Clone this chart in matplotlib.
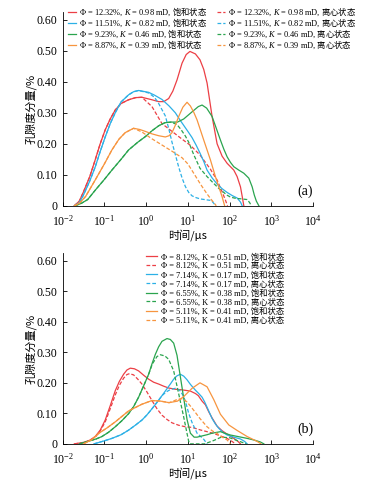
import matplotlib
matplotlib.use("Agg")
import matplotlib.pyplot as plt
import numpy as np

plt.rcParams["font.family"] = ["Liberation Serif", "Noto Sans CJK SC"]
plt.rcParams["mathtext.fontset"] = "custom"
plt.rcParams["mathtext.rm"] = "Liberation Serif"
plt.rcParams["mathtext.it"] = "Liberation Serif:italic"
plt.rcParams["mathtext.sf"] = "Noto Sans CJK SC"

RED = "#ec3f45"
BLUE = "#2cb0e6"
GREEN = "#2aa44e"
ORANGE = "#f7953f"

# ---- panel (a): log10(time/us) and porosity component (%) ----
a_red_sat_logt = [-1.72, -1.6, -1.5, -1.35, -1.22, -1.1, -0.98, -0.86, -0.74, -0.6, -0.42, -0.25, -0.1,
                  0.14, 0.3, 0.42, 0.54, 0.64, 0.74, 0.86, 0.96, 1.05, 1.18, 1.29, 1.38, 1.46, 1.58,
                  1.7, 1.82, 1.94, 2.1, 2.18, 2.26, 2.3, 2.34]
a_red_sat = [0, 0.015, 0.045, 0.094, 0.148, 0.2, 0.245, 0.28, 0.309, 0.33, 0.342, 0.349, 0.35,
             0.342, 0.336, 0.336, 0.346, 0.37, 0.406, 0.46, 0.488, 0.498, 0.49, 0.471, 0.44, 0.396, 0.288,
             0.2, 0.16, 0.137, 0.115, 0.094, 0.061, 0.031, 0]
a_red_cen_logt = [-1.72, -1.6, -1.5, -1.35, -1.22, -1.1, -0.98, -0.86, -0.74, -0.6, -0.42, -0.25, -0.1,
                  0.14, 0.38, 0.62, 0.86, 1.06, 1.29, 1.42, 1.54, 1.62, 1.7, 1.82, 1.9, 1.95]
a_red_cen = [0, 0.015, 0.045, 0.094, 0.148, 0.2, 0.245, 0.28, 0.309, 0.33, 0.342, 0.349, 0.35,
             0.32, 0.265, 0.24, 0.215, 0.195, 0.164, 0.14, 0.118, 0.1, 0.083, 0.045, 0.018, 0]

a_blue_sat_logt = [-1.72, -1.6, -1.5, -1.35, -1.22, -1.1, -0.98, -0.86, -0.74, -0.6, -0.42, -0.3, -0.18,
                   0.06, 0.2, 0.38, 0.55, 0.7, 0.82, 1.0, 1.1, 1.2, 1.29, 1.38, 1.46, 1.58, 1.7, 1.82,
                   1.94, 2.06, 2.18, 2.26, 2.3]
a_blue_sat = [0, 0.01, 0.035, 0.08, 0.125, 0.175, 0.222, 0.265, 0.3, 0.335, 0.358, 0.368, 0.372,
              0.366, 0.357, 0.343, 0.322, 0.3, 0.275, 0.24, 0.22, 0.195, 0.17, 0.143, 0.115, 0.09, 0.07, 0.055,
              0.043, 0.033, 0.025, 0.012, 0]
a_blue_cen_logt = [-1.72, -1.6, -1.5, -1.35, -1.22, -1.1, -0.98, -0.86, -0.74, -0.6, -0.42, -0.3, -0.18,
                   0.06, 0.2, 0.3, 0.38, 0.46, 0.54, 0.62, 0.7, 0.78, 0.86, 0.94, 1.02, 1.1, 1.2, 1.3,
                   1.45, 1.56, 1.62, 1.66]
a_blue_cen = [0, 0.01, 0.035, 0.08, 0.125, 0.175, 0.222, 0.265, 0.3, 0.335, 0.358, 0.368, 0.372,
              0.364, 0.35, 0.33, 0.31, 0.29, 0.25, 0.205, 0.165, 0.125, 0.09, 0.062, 0.043, 0.032, 0.026, 0.022,
              0.019, 0.017, 0.008, 0]

a_green_sat_logt = [-1.7, -1.55, -1.4, -1.22, -1.0, -0.82, -0.6, -0.42, -0.2, -0.02, 0.15, 0.3, 0.45,
                    0.6, 0.75, 0.9, 1.1, 1.25, 1.34, 1.45, 1.58, 1.68, 1.78, 1.86, 1.94, 2.02, 2.1,
                    2.22, 2.34, 2.46, 2.54, 2.59, 2.64, 2.7]
a_green_sat = [0, 0.008, 0.02, 0.05, 0.085, 0.115, 0.15, 0.18, 0.205, 0.223, 0.243, 0.258, 0.268,
               0.27, 0.27, 0.28, 0.303, 0.32, 0.325, 0.315, 0.288, 0.25, 0.212, 0.183, 0.158, 0.14, 0.126,
               0.115, 0.105, 0.089, 0.061, 0.035, 0.015, 0]
a_green_cen_logt = [-1.7, -1.55, -1.4, -1.22, -1.0, -0.82, -0.6, -0.42, -0.2, -0.02, 0.15, 0.3, 0.45,
                    0.6, 0.74, 0.84, 0.94, 1.02, 1.14, 1.29, 1.46, 1.62, 1.74, 1.86, 1.94, 2.02, 2.14,
                    2.3, 2.42, 2.48, 2.52]
a_green_cen = [0, 0.008, 0.02, 0.05, 0.085, 0.115, 0.15, 0.18, 0.205, 0.223, 0.243, 0.258, 0.268,
               0.27, 0.262, 0.245, 0.225, 0.205, 0.165, 0.121, 0.094, 0.072, 0.056, 0.043, 0.034, 0.028, 0.024,
               0.022, 0.02, 0.01, 0]

a_orange_sat_logt = [-1.72, -1.6, -1.45, -1.22, -1.0, -0.82, -0.65, -0.5, -0.3, -0.15, -0.02, 0.14, 0.3,
                     0.46, 0.55, 0.62, 0.7, 0.78, 0.88, 0.98, 1.06, 1.14, 1.22, 1.38, 1.54, 1.66, 1.74,
                     1.82, 1.88]
a_orange_sat = [0, 0.008, 0.03, 0.083, 0.135, 0.18, 0.215, 0.236, 0.25, 0.246, 0.24, 0.232, 0.226,
                0.222, 0.226, 0.236, 0.26, 0.288, 0.318, 0.334, 0.322, 0.302, 0.277, 0.212, 0.148, 0.094, 0.061,
                0.029, 0]
a_orange_cen_logt = [-1.72, -1.6, -1.45, -1.22, -1.0, -0.82, -0.65, -0.5, -0.3, -0.1, 0.14, 0.38, 0.62,
                     0.86, 1.0, 1.14, 1.3, 1.45, 1.56, 1.64, 1.68]
a_orange_cen = [0, 0.008, 0.03, 0.083, 0.135, 0.18, 0.215, 0.236, 0.25, 0.238, 0.216, 0.196, 0.176,
                0.155, 0.135, 0.105, 0.07, 0.04, 0.02, 0.007, 0]

# ---- panel (b) ----
b_red_sat_logt = [-1.72, -1.5, -1.35, -1.22, -1.1, -0.98, -0.86, -0.74, -0.64, -0.54, -0.46, -0.38, -0.28,
                  -0.18, -0.06, 0.06, 0.18, 0.3, 0.42, 0.54, 0.7, 0.86, 1.06, 1.18, 1.25, 1.34, 1.42,
                  1.5, 1.58, 1.7, 1.82, 1.94, 2.1, 2.2, 2.26]
b_red_sat = [0, 0.005, 0.012, 0.024, 0.045, 0.078, 0.125, 0.174, 0.205, 0.228, 0.242, 0.248, 0.246,
             0.239, 0.225, 0.212, 0.202, 0.196, 0.189, 0.183, 0.179, 0.177, 0.173, 0.165, 0.158, 0.14, 0.128,
             0.105, 0.085, 0.058, 0.043, 0.032, 0.018, 0.008, 0]
b_red_cen_logt = [-1.72, -1.5, -1.35, -1.22, -1.1, -0.98, -0.86, -0.74, -0.64, -0.54, -0.46, -0.4, -0.3,
                  -0.2, -0.1, 0.02, 0.14, 0.26, 0.38, 0.5, 0.62, 0.78, 0.94, 1.1, 1.29, 1.46, 1.62,
                  1.78, 1.94, 2.06, 2.14]
b_red_cen = [0, 0.004, 0.01, 0.022, 0.042, 0.072, 0.115, 0.16, 0.192, 0.215, 0.227, 0.23, 0.226,
             0.212, 0.196, 0.17, 0.142, 0.115, 0.094, 0.08, 0.069, 0.061, 0.056, 0.054, 0.046, 0.04, 0.034,
             0.026, 0.018, 0.008, 0]

b_blue_sat_logt = [-1.25, -1.0, -0.82, -0.6, -0.42, -0.25, -0.1, 0.02, 0.14, 0.26, 0.38, 0.48, 0.58,
                   0.66, 0.74, 0.82, 0.9, 0.98, 1.06, 1.18, 1.26, 1.34, 1.4, 1.46, 1.58, 1.66, 1.74,
                   1.84, 1.94, 2.1, 2.26, 2.36, 2.42]
b_blue_sat = [0, 0.01, 0.018, 0.03, 0.045, 0.062, 0.078, 0.095, 0.115, 0.136, 0.158, 0.177, 0.196,
              0.212, 0.223, 0.228, 0.222, 0.21, 0.195, 0.176, 0.165, 0.153, 0.138, 0.12, 0.083, 0.065, 0.051,
              0.038, 0.029, 0.022, 0.016, 0.008, 0]
b_blue_cen_logt = [-1.25, -1.0, -0.82, -0.6, -0.42, -0.25, -0.1, 0.02, 0.14, 0.26, 0.38, 0.48, 0.58,
                   0.7, 0.8, 0.88, 0.94, 1.02, 1.1, 1.22, 1.38, 1.46]
b_blue_cen = [0, 0.01, 0.018, 0.03, 0.045, 0.062, 0.078, 0.095, 0.115, 0.136, 0.158, 0.17, 0.178,
              0.182, 0.176, 0.16, 0.14, 0.1, 0.07, 0.035, 0.015, 0]

b_green_sat_logt = [-1.6, -1.4, -1.2, -1.06, -0.9, -0.74, -0.58, -0.42, -0.3, -0.18, -0.06, 0.06, 0.14,
                    0.22, 0.3, 0.38, 0.5, 0.58, 0.66, 0.74, 0.82, 0.9, 0.98, 1.06, 1.15, 1.22, 1.34,
                    1.46, 1.58, 1.7, 1.78, 1.9, 2.02, 2.2, 2.42, 2.6, 2.74, 2.82]
b_green_sat = [0, 0.008, 0.016, 0.024, 0.038, 0.056, 0.076, 0.099, 0.122, 0.153, 0.19, 0.228, 0.262,
               0.293, 0.318, 0.336, 0.345, 0.342, 0.33, 0.29, 0.22, 0.15, 0.08, 0.035, 0.022, 0.022, 0.026,
               0.03, 0.035, 0.038, 0.04, 0.034, 0.029, 0.024, 0.018, 0.012, 0.006, 0]
b_green_cen_logt = [-1.6, -1.4, -1.2, -1.06, -0.9, -0.74, -0.58, -0.42, -0.3, -0.18, -0.06, 0.06, 0.15,
                    0.26, 0.34, 0.45, 0.54, 0.66, 0.78, 0.9, 0.98, 1.02, 1.05, 1.4, 1.6, 1.8, 2.0,
                    2.2, 2.4]
b_green_cen = [0, 0.008, 0.016, 0.024, 0.038, 0.056, 0.076, 0.099, 0.122, 0.153, 0.19, 0.228, 0.262,
               0.286, 0.292, 0.288, 0.277, 0.239, 0.164, 0.088, 0.034, 0.008, 0, 0, 0.01, 0.022, 0.02,
               0.01, 0]

b_orange_sat_logt = [-1.5, -1.3, -1.14, -0.94, -0.74, -0.58, -0.42, -0.1, 0.14, 0.35, 0.55, 0.75, 0.9,
                     1.1, 1.29, 1.46, 1.62, 1.78, 1.98, 2.18, 2.42, 2.66, 2.75]
b_orange_sat = [0, 0.014, 0.034, 0.052, 0.072, 0.09, 0.108, 0.13, 0.142, 0.14, 0.135, 0.14, 0.155,
                0.182, 0.2, 0.187, 0.145, 0.097, 0.062, 0.044, 0.024, 0.008, 0]
b_orange_cen_logt = [-1.5, -1.3, -1.14, -0.94, -0.74, -0.58, -0.42, -0.1, 0.14, 0.35, 0.55, 0.65, 0.75,
                     0.85, 0.92, 0.98, 1.06, 1.14, 1.29, 1.46, 1.58, 1.7, 1.82, 1.94, 2.02]
b_orange_cen = [0, 0.014, 0.034, 0.052, 0.072, 0.09, 0.108, 0.13, 0.142, 0.14, 0.135, 0.14, 0.146,
                0.148, 0.144, 0.137, 0.124, 0.11, 0.083, 0.056, 0.043, 0.034, 0.022, 0.013, 0]

a_phi = ["12.32%", "11.51%", "9.23%", "8.87%"]
a_k = ["0.98 mD", "0.82 mD", "0.46 mD", "0.39 mD"]
b_phi = ["8.12%", "7.14%", "6.55%", "5.11%"]
b_k = ["0.51 mD", "0.17 mD", "0.38 mD", "0.41 mD"]
SAT = "饱和状态"
CEN = "离心状态"

y_ticks = [0, 0.1, 0.2, 0.3, 0.4, 0.5, 0.6]
y_tick_labels = ["0", "0.10", "0.20", "0.30", "0.40", "0.50", "0.60"]
x_ticks = [1e-2, 1e-1, 1e0, 1e1, 1e2, 1e3, 1e4]
x_tick_labels = ["$10^{-2}$", "$10^{-1}$", "$10^{0}$", "$10^{1}$", "$10^{2}$", "$10^{3}$", "$10^{4}$"]


def fmt_label(phi, k, state):
    # CJK goes through the sans math font so it is not lost inside mathtext
    return rf"$\mathit{{\Phi}}$ = {phi}, $\mathit{{K}}$ = {k}, $\mathsf{{{state}}}$"


def plain_label(phi, k, state):
    return f"\u03a6 = {phi}, K = {k}, {state}"


def style_axes(ax, tag):
    ax.set_xscale("log")
    ax.set_xlim(1e-2, 1e4)
    ax.set_ylim(0, 0.625)
    ax.set_xticks(x_ticks)
    ax.set_xticklabels(x_tick_labels, fontsize=8.5)
    ax.minorticks_off()
    ax.set_yticks(y_ticks)
    ax.set_yticklabels(y_tick_labels, fontsize=8.5)
    ax.tick_params(direction="in", length=3, width=0.6)
    ax.tick_params(axis="x", pad=6)
    ax.tick_params(axis="y", pad=4)
    for side in ["top", "right"]:
        ax.spines[side].set_visible(False)
    for side in ["left", "bottom"]:
        ax.spines[side].set_linewidth(0.6)
    ax.set_ylabel("孔隙度分量/%", fontsize=8, family=["Noto Sans CJK SC"], labelpad=0)
    ax.set_xlabel("时间/μs", fontsize=8, family=["Noto Sans CJK SC", "DejaVu Sans"], labelpad=0)
    ax.text(0.97, 0.075, tag, transform=ax.transAxes, fontsize=10, ha="center", va="center")


def draw(ax, curves, phis, ks, labeller):
    lines_sat = []
    lines_cen = []
    for (xs, ys, xc, yc, color), phi, k in zip(curves, phis, ks):
        ls, = ax.plot(10 ** np.array(xs), ys, color=color, lw=0.9, label=labeller(phi, k, SAT))
        lc, = ax.plot(10 ** np.array(xc), yc, color=color, lw=0.9, ls=(0, (3, 1.6)),
                      label=labeller(phi, k, CEN))
        lines_sat.append(ls)
        lines_cen.append(lc)
    return lines_sat, lines_cen


fig = plt.figure(figsize=(3.75, 4.83), dpi=100)
ax_a = fig.add_axes([0.167, 0.574, 0.668, 0.401])
ax_b = fig.add_axes([0.167, 0.081, 0.668, 0.395])

curves_a = [
    (a_red_sat_logt, a_red_sat, a_red_cen_logt, a_red_cen, RED),
    (a_blue_sat_logt, a_blue_sat, a_blue_cen_logt, a_blue_cen, BLUE),
    (a_green_sat_logt, a_green_sat, a_green_cen_logt, a_green_cen, GREEN),
    (a_orange_sat_logt, a_orange_sat, a_orange_cen_logt, a_orange_cen, ORANGE),
]
curves_b = [
    (b_red_sat_logt, b_red_sat, b_red_cen_logt, b_red_cen, RED),
    (b_blue_sat_logt, b_blue_sat, b_blue_cen_logt, b_blue_cen, BLUE),
    (b_green_sat_logt, b_green_sat, b_green_cen_logt, b_green_cen, GREEN),
    (b_orange_sat_logt, b_orange_sat, b_orange_cen_logt, b_orange_cen, ORANGE),
]

sat_a, cen_a = draw(ax_a, curves_a, a_phi, a_k, fmt_label)
sat_b, cen_b = draw(ax_b, curves_b, b_phi, b_k, plain_label)
style_axes(ax_a, "(a)")
style_axes(ax_b, "(b)")

# panel (a) legend: saturated in the left column, centrifuged in the right
ax_a.legend(sat_a + cen_a, [l.get_label() for l in sat_a + cen_a], ncol=2,
            loc="upper left", bbox_to_anchor=(68 / 375, 1 - 6 / 483),
            bbox_transform=fig.transFigure, frameon=False,
            prop={"family": ["Liberation Serif"], "size": 6},
            handlelength=1.0, handletextpad=0.3, columnspacing=1.2,
            labelspacing=-0.18, borderpad=0, borderaxespad=0)

# panel (b) legend: one column, pairs of saturated / centrifuged
order_b = []
for s, c in zip(sat_b, cen_b):
    order_b += [s, c]
ax_b.legend(order_b, [l.get_label() for l in order_b], ncol=1,
            loc="upper left", bbox_to_anchor=(146 / 375, 1 - 253 / 483),
            bbox_transform=fig.transFigure, frameon=False,
            prop={"family": ["Liberation Serif", "Noto Sans CJK SC"], "size": 6},
            handlelength=1.3, handletextpad=0.5,
            labelspacing=0.09, borderpad=0, borderaxespad=0)

fig.savefig("out.png", dpi=100)
